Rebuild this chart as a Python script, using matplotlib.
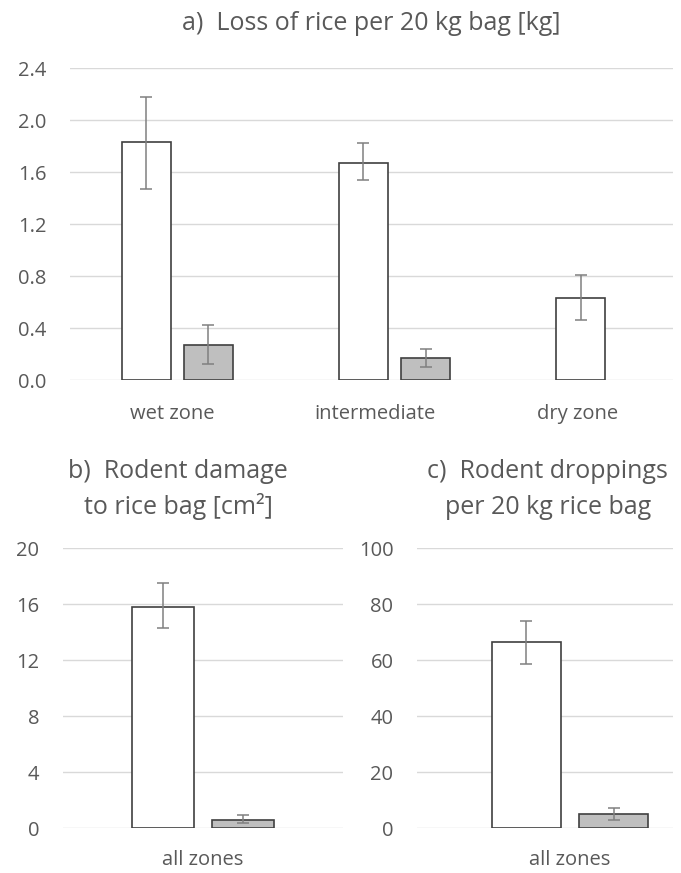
import matplotlib
matplotlib.use("Agg")
import matplotlib.pyplot as plt
import numpy as np

plt.rcParams['font.family'] = ['Open Sans', 'DejaVu Sans']

# Panel a data
zones = ["wet zone", "intermediate", "dry zone"]
loss_untreated = [1.83, 1.67, 0.63]
loss_untreated_lo = [1.47, 1.54, 0.46]
loss_untreated_hi = [2.18, 1.82, 0.81]
loss_treated = [0.27, 0.17, 0.0]
loss_treated_lo = [0.12, 0.10, 0.0]
loss_treated_hi = [0.42, 0.24, 0.0]
a_yticks = [0.0, 0.4, 0.8, 1.2, 1.6, 2.0, 2.4]

# Panel b data
b_cat = ["all zones"]
damage_untreated = [15.8]
damage_untreated_lo = [14.3]
damage_untreated_hi = [17.5]
damage_treated = [0.6]
damage_treated_lo = [0.35]
damage_treated_hi = [0.95]
b_yticks = [0, 4, 8, 12, 16, 20]

# Panel c data
c_cat = ["all zones"]
drop_untreated = [66.5]
drop_untreated_lo = [58.5]
drop_untreated_hi = [74.0]
drop_treated = [5.0]
drop_treated_lo = [3.0]
drop_treated_hi = [7.3]
c_yticks = [0, 20, 40, 60, 80, 100]

TXT = "#595959"
GRID = "#d9d9d9"
EDGE = "#404040"
GREY = "#bfbfbf"
ERR = "#808080"

W, H = 681, 873
fig = plt.figure(figsize=(W / 100, H / 100), dpi=100)

def rect(l, r, t, b):
    return [l / W, 1 - b / H, (r - l) / W, (b - t) / H]

def draw(ax, cats, u, ulo, uhi, t, tlo, thi, yticks, fmt, width, off, xlim,
         ypad, xpad, tick_scale=1.0, tick_shift=0.0):
    x = np.arange(len(cats))
    u = np.array(u); t = np.array(t)
    ax.bar(x - off, u, width, color="white", edgecolor=EDGE, linewidth=1.2, zorder=3)
    ax.errorbar(x - off, u, yerr=[u - np.array(ulo), np.array(uhi) - u], fmt="none",
                ecolor=ERR, elinewidth=1.1, capsize=4, capthick=1.1, zorder=4)
    mask = t > 0
    ax.bar(x[mask] + off, t[mask], width, color=GREY, edgecolor=EDGE, linewidth=1.2, zorder=3)
    tl = np.array(tlo); th = np.array(thi)
    ax.errorbar(x[mask] + off, t[mask], yerr=[t[mask] - tl[mask], th[mask] - t[mask]], fmt="none",
                ecolor=ERR, elinewidth=1.1, capsize=4, capthick=1.1, zorder=4)
    ax.set_ylim(yticks[0], yticks[-1])
    ax.set_yticks(yticks)
    ax.set_yticklabels([fmt.format(v) for v in yticks])
    ax.set_xlim(*xlim)
    ax.set_xticks(x * tick_scale + tick_shift)
    ax.set_xticklabels(cats)
    ax.yaxis.grid(True, color=GRID, linewidth=1.0, zorder=0)
    ax.set_axisbelow(True)
    for s in ax.spines.values():
        s.set_visible(False)
    ax.tick_params(axis="y", length=0, pad=ypad, labelsize=14.5, labelcolor=TXT)
    ax.tick_params(axis="x", length=0, pad=xpad, labelsize=14.5, labelcolor=TXT)

TFS = 18

# Panel a
axa = fig.add_axes(rect(70, 673, 68, 380))
draw(axa, zones, loss_untreated, loss_untreated_lo, loss_untreated_hi,
     loss_treated, loss_treated_lo, loss_treated_hi, a_yticks, "{:.1f}",
     0.226, 0.143, (-0.495, 2.283), 17, 17, tick_scale=0.935, tick_shift=-0.025)
fig.text(371 / W, 1 - 23 / H, "a)  Loss of rice per 20 kg bag [kg]", ha="center", va="center",
         fontsize=TFS, color=TXT)

# Panel b
axb = fig.add_axes(rect(63, 343, 548, 828))
draw(axb, b_cat, damage_untreated, damage_untreated_lo, damage_untreated_hi,
     damage_treated, damage_treated_lo, damage_treated_hi, b_yticks, "{:d}",
     0.248, 0.16, (-0.56, 0.56), 17, 16)
fig.text(178 / W, 1 - 471 / H, "b)  Rodent damage", ha="center", va="center", fontsize=TFS, color=TXT)
fig.text(178 / W, 1 - 507 / H, "to rice bag [cm²]", ha="center", va="center", fontsize=TFS, color=TXT)

# Panel c
axc = fig.add_axes(rect(417, 673, 548, 828))
draw(axc, c_cat, drop_untreated, drop_untreated_lo, drop_untreated_hi,
     drop_treated, drop_treated_lo, drop_treated_hi, c_yticks, "{:d}",
     0.276, 0.175, (-0.612, 0.412), 17, 16)
fig.text(547 / W, 1 - 471 / H, "c)  Rodent droppings", ha="center", va="center", fontsize=TFS, color=TXT)
fig.text(548 / W, 1 - 507 / H, "per 20 kg rice bag", ha="center", va="center", fontsize=TFS, color=TXT)

fig.savefig("out.png", dpi=100, facecolor="white")
